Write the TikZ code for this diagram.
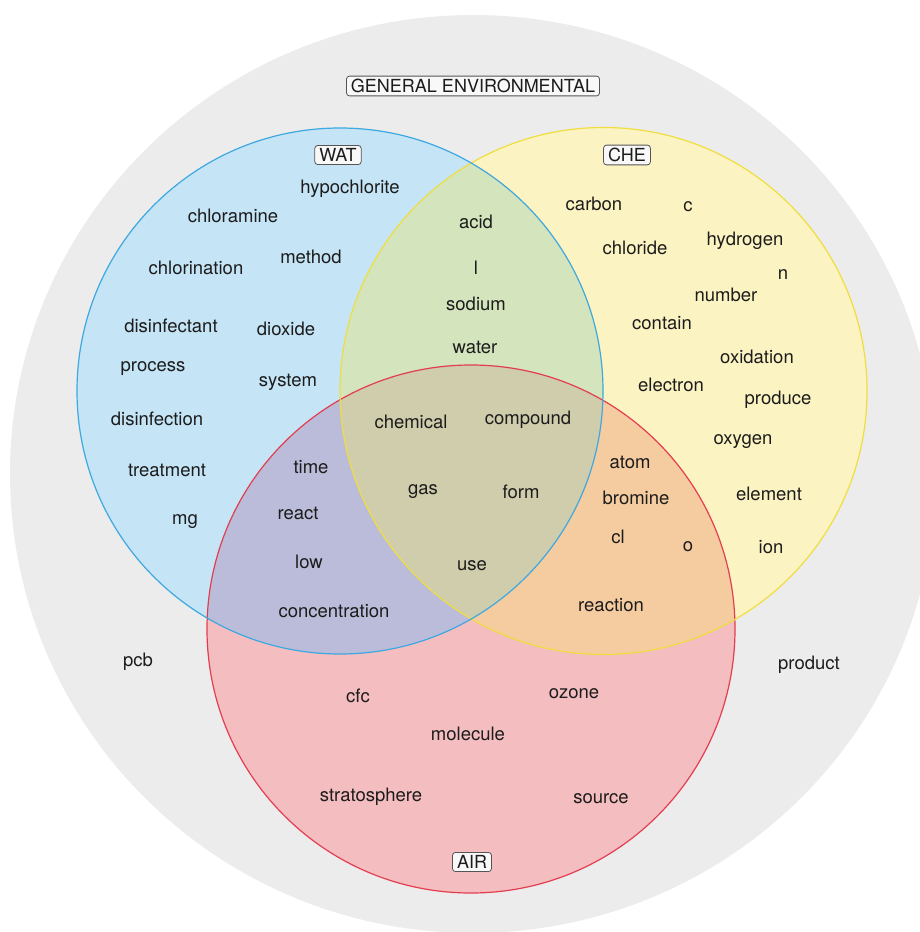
\documentclass[tikz,border=0pt]{standalone}
\usepackage{fontspec}
\setmainfont{TeX Gyre Heros}
\definecolor{greyfill}{HTML}{ECECEC}
\definecolor{bluefill}{HTML}{C5E4F6}
\definecolor{yellowfill}{HTML}{FCF3C2}
\definecolor{redfill}{HTML}{F4BDC0}
\definecolor{byfill}{HTML}{D4E4BC}
\definecolor{brfill}{HTML}{BBBCD9}
\definecolor{yrfill}{HTML}{F5CBA0}
\definecolor{byrfill}{HTML}{CFCDAB}
\definecolor{bluestroke}{HTML}{3EA8E0}
\definecolor{yellowstroke}{HTML}{F0DE40}
\definecolor{redstroke}{HTML}{E23E50}
\definecolor{txt}{HTML}{1C1C1C}
\definecolor{boxline}{HTML}{555555}
\definecolor{boxfill}{HTML}{F8F8F8}
\begin{document}
\begin{tikzpicture}[x=1pt,y=-1pt,
  word/.style={text=txt,font=\fontsize{18.5}{20}\selectfont,inner sep=0pt},
  setlabel/.style={text=txt,font=\fontsize{18}{20}\selectfont,draw=boxline,fill=boxfill,
    line width=0.8pt,rounded corners=3pt,inner xsep=4.5pt,inner ysep=3pt},
  ring/.style={line width=1.2pt}]
\useasboundingbox (0,0) rectangle (920,932);
% outer set
\fill[greyfill] (473,474) ellipse [x radius=463pt, y radius=459pt];
% coordinates of the three set centres
\coordinate (cw) at (340,391);
\coordinate (cc) at (603.5,391);
\coordinate (ca) at (471,629);
% single regions
\fill[bluefill] (cw) circle[radius=263pt];
\fill[yellowfill] (cc) circle[radius=263.5pt];
\fill[redfill] (ca) circle[radius=264pt];
% overlaps
\begin{scope}
  \clip (cw) circle[radius=263pt];
  \fill[byfill] (cc) circle[radius=263.5pt];
  \fill[brfill] (ca) circle[radius=264pt];
\end{scope}
\begin{scope}
  \clip (cc) circle[radius=263.5pt];
  \fill[yrfill] (ca) circle[radius=264pt];
\end{scope}
\begin{scope}
  \clip (cw) circle[radius=263pt];
  \clip (cc) circle[radius=263.5pt];
  \fill[byrfill] (ca) circle[radius=264pt];
\end{scope}
% outlines
\draw[ring,redstroke] (ca) circle[radius=264pt];
\draw[ring,yellowstroke] (cc) circle[radius=263.5pt];
\draw[ring,bluestroke] (cw) circle[radius=263pt];
% set labels
\node[setlabel] (gen) at (473,86) {GENERAL ENVIRONMENTAL};
\node[setlabel] (wat) at (338,155) {WAT};
\node[setlabel] (che) at (627,155) {CHE};
\node[setlabel] (air) at (472,862) {AIR};
% WAT only
\node[word] (w1) at (350,189) {hypochlorite};
\node[word] (w2) at (233,216) {chloramine};
\node[word] (w3) at (311,257) {method};
\node[word] (w4) at (196,268) {chlorination};
\node[word] (w5) at (171,326) {disinfectant};
\node[word] (w6) at (286,329) {dioxide};
\node[word] (w7) at (153,369) {process};
\node[word] (w8) at (288,382) {system};
\node[word] (w9) at (157,419) {disinfection};
\node[word] (w10) at (167,470) {treatment};
\node[word] (w11) at (185,522) {mg};
% WAT & CHE
\node[word] (wc1) at (476,222) {acid};
\node[word] (wc2) at (476,268) {l};
\node[word] (wc3) at (476,304) {sodium};
\node[word] (wc4) at (475,347) {water};
% CHE only
\node[word] (c1) at (594,204) {carbon};
\node[word] (c2) at (688,207) {c};
\node[word] (c3) at (635,248) {chloride};
\node[word] (c4) at (745,241) {hydrogen};
\node[word] (c5) at (783,275) {n};
\node[word] (c6) at (726,295) {number};
\node[word] (c7) at (662,323) {contain};
\node[word] (c8) at (757,357) {oxidation};
\node[word] (c9) at (671,385) {electron};
\node[word] (c10) at (778,400) {produce};
\node[word] (c11) at (743,442) {oxygen};
\node[word] (c12) at (769,494) {element};
\node[word] (c13) at (771,547) {ion};
% CHE & AIR
\node[word] (ca1) at (630,462) {atom};
\node[word] (ca2) at (636,498) {bromine};
\node[word] (ca3) at (618,537) {cl};
\node[word] (ca4) at (688,547) {o};
\node[word] (ca5) at (611,605) {reaction};
% all three
\node[word] (t1) at (411,422) {chemical};
\node[word] (t2) at (528,420) {compound};
\node[word] (t3) at (423,492) {gas};
\node[word] (t4) at (521,492) {form};
\node[word] (t5) at (472,566) {use};
% WAT & AIR
\node[word] (wa1) at (311,467) {time};
\node[word] (wa2) at (298,513) {react};
\node[word] (wa3) at (309,562) {low};
\node[word] (wa4) at (334,611) {concentration};
% AIR only
\node[word] (a1) at (358,696) {cfc};
\node[word] (a2) at (574,694) {ozone};
\node[word] (a3) at (468,734) {molecule};
\node[word] (a4) at (371,797) {stratosphere};
\node[word] (a5) at (601,799) {source};
% general only
\node[word] (g1) at (138,662) {pcb};
\node[word] (g2) at (809,665) {product};
\end{tikzpicture}
\end{document}
